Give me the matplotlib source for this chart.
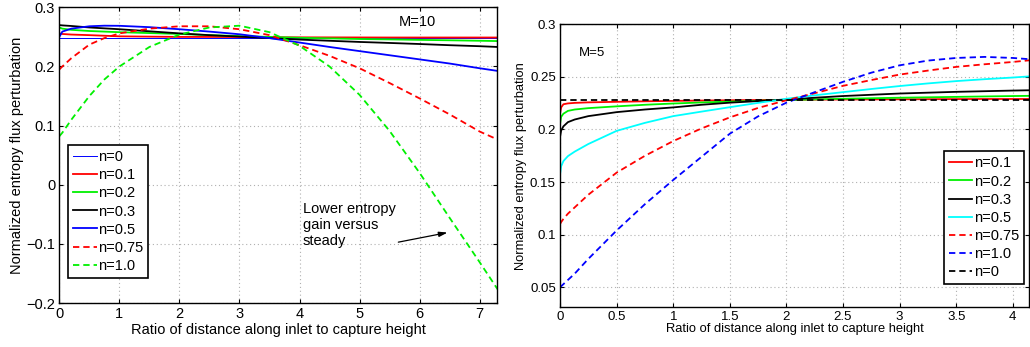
import matplotlib
matplotlib.use("Agg")
import matplotlib.pyplot as plt

plt.rcParams["font.family"] = ["Liberation Sans", "DejaVu Sans"]

# ---- left panel, M=10 ----
x_m10 = [0, 0.05, 0.2, 0.5, 0.75, 1, 1.5, 2, 2.5, 3, 3.5, 4, 4.5, 5, 5.5, 6, 6.5, 7, 7.3]
m10_n0 = [0.249] * len(x_m10)
m10_n01 = [0.256, 0.255, 0.254, 0.253, 0.252, 0.251, 0.2505, 0.25, 0.25, 0.2498,
           0.2495, 0.2493, 0.2492, 0.2491, 0.249, 0.249, 0.249, 0.249, 0.249]
m10_n02 = [0.266, 0.264, 0.262, 0.26, 0.259, 0.258, 0.2565, 0.255, 0.253, 0.2515,
           0.25, 0.2485, 0.2475, 0.2465, 0.2458, 0.245, 0.2443, 0.2435, 0.243]
m10_n03 = [0.270, 0.2695, 0.2685, 0.266, 0.2645, 0.263, 0.2595, 0.256, 0.253, 0.2505,
           0.248, 0.2455, 0.2435, 0.2415, 0.2398, 0.238, 0.236, 0.2343, 0.233]
m10_n05 = [0.25, 0.259, 0.264, 0.268, 0.269, 0.2688, 0.2665, 0.263, 0.259, 0.2545,
           0.248, 0.2405, 0.233, 0.226, 0.219, 0.212, 0.205, 0.197, 0.1925]
m10_n075 = [0.195, 0.2, 0.214, 0.237, 0.248, 0.256, 0.264, 0.268, 0.268, 0.263,
            0.253, 0.236, 0.218, 0.197, 0.172, 0.146, 0.119, 0.09, 0.0764]
m10_n10 = [0.082, 0.088, 0.11, 0.15, 0.178, 0.2, 0.233, 0.254, 0.266, 0.269,
           0.258, 0.235, 0.2, 0.152, 0.091, 0.02, -0.056, -0.131, -0.177]

# ---- right panel, M=5 ----
x_m5 = [0, 0.01, 0.03, 0.07, 0.13, 0.25, 0.5, 0.75, 1, 1.25, 1.5, 1.75, 2,
        2.25, 2.5, 2.75, 3, 3.25, 3.5, 3.75, 4, 4.15]
m5_n0 = [0.228] * len(x_m5)
m5_n01 = [0.215, 0.221, 0.224, 0.2248, 0.2253, 0.2258, 0.2263, 0.2268, 0.2272, 0.2275,
          0.2278, 0.228, 0.2282, 0.2284, 0.2285, 0.2286, 0.2287, 0.2288, 0.2289, 0.229,
          0.229, 0.229]
m5_n02 = [0.205, 0.212, 0.215, 0.2177, 0.219, 0.2203, 0.222, 0.2235, 0.2247, 0.2257,
          0.2265, 0.2273, 0.228, 0.2286, 0.2292, 0.2297, 0.2302, 0.2306, 0.231, 0.2314,
          0.2318, 0.232]
m5_n03 = [0.193, 0.199, 0.203, 0.207, 0.2095, 0.2127, 0.2165, 0.219, 0.221, 0.2235,
          0.2255, 0.227, 0.2284, 0.2302, 0.2318, 0.233, 0.2342, 0.235, 0.2358, 0.2364,
          0.237, 0.2373]
m5_n05 = [0.157, 0.165, 0.17, 0.1747, 0.179, 0.1862, 0.1987, 0.2063, 0.2127, 0.217,
          0.2212, 0.2253, 0.2292, 0.2325, 0.2355, 0.2385, 0.2413, 0.2438, 0.246, 0.2478,
          0.2494, 0.2505]
m5_n075 = [0.11, 0.112, 0.115, 0.12, 0.126, 0.138, 0.159, 0.175, 0.189, 0.201,
           0.2115, 0.2205, 0.2278, 0.2345, 0.2415, 0.247, 0.2522, 0.256, 0.2595, 0.262,
           0.2642, 0.2658]
m5_n10 = [0.05, 0.051, 0.053, 0.057, 0.063, 0.077, 0.104, 0.129, 0.152, 0.174,
          0.196, 0.2125, 0.2255, 0.2355, 0.2453, 0.254, 0.261, 0.2655, 0.268, 0.269,
          0.268, 0.2668]

GREEN = "#00f000"
dash = (0, (3.5, 2.2))


def matlab_axes(ax, fs):
    ax.grid(True, color="#b0b0b0", linestyle=(0, (1, 2.5)), linewidth=0.8)
    ax.tick_params(direction="in", top=True, right=True, length=3,
                   labelsize=fs, width=0.8, pad=3)
    for sp in ax.spines.values():
        sp.set_linewidth(1.0)


def boxed_legend(ax, **kw):
    leg = ax.legend(borderaxespad=0, fontsize=10.5, handlelength=1.6,
                    handletextpad=0.1, labelspacing=0.28, borderpad=0.35,
                    fancybox=False, framealpha=1, **kw)
    leg.get_frame().set_edgecolor("black")
    leg.get_frame().set_linewidth(1.2)
    return leg


fig = plt.figure(figsize=(10.3, 3.47), dpi=100)

# left
ax1 = fig.add_axes([0.0576, 0.1268, 0.425, 0.852])
ax1.plot(x_m10, m10_n0, color="#0000ff", lw=0.7, label="n=0")
ax1.plot(x_m10, m10_n01, color="#ff0000", lw=1.3, label="n=0.1")
ax1.plot(x_m10, m10_n02, color=GREEN, lw=1.3, label="n=0.2")
ax1.plot(x_m10, m10_n03, color="black", lw=1.3, label="n=0.3")
ax1.plot(x_m10, m10_n05, color="#0000ff", lw=1.3, label="n=0.5")
ax1.plot(x_m10, m10_n075, color="#ff0000", lw=1.3, ls=dash, label="n=0.75")
ax1.plot(x_m10, m10_n10, color=GREEN, lw=1.3, ls=dash, label="n=1.0")
ax1.set_xlim(0, 7.29)
ax1.set_ylim(-0.2, 0.3)
ax1.set_xticks(range(0, 8))
ax1.set_yticks([-0.2, -0.1, 0, 0.1, 0.2, 0.3])
ax1.set_yticklabels(["\u22120.2", "\u22120.1", "0", "0.1", "0.2", "0.3"])
matlab_axes(ax1, 10.5)
ax1.set_xlabel("Ratio of distance along inlet to capture height", fontsize=10.5, labelpad=1)
ax1.set_ylabel("Normalized entropy flux perturbation", fontsize=10.5, labelpad=2)
ax1.text(5.65, 0.275, "M=10", fontsize=10.5, va="center")
ax1.annotate("", xy=(6.51, -0.08), xytext=(5.6, -0.098),
             arrowprops=dict(arrowstyle="-|>,head_length=0.5,head_width=0.15",
                             color="black", lw=0.9))
ax1.text(4.05, -0.03, "Lower entropy\ngain versus\nsteady", fontsize=10.5,
         va="top", linespacing=1.15)
boxed_legend(ax1, loc="lower left", bbox_to_anchor=(0.02, 0.085))

# right
ax2 = fig.add_axes([0.5437, 0.1144, 0.4553, 0.8156])
ax2.plot(x_m5, m5_n01, color="#ff0000", lw=1.3, label="n=0.1")
ax2.plot(x_m5, m5_n02, color=GREEN, lw=1.3, label="n=0.2")
ax2.plot(x_m5, m5_n03, color="black", lw=1.3, label="n=0.3")
ax2.plot(x_m5, m5_n05, color="#00ffff", lw=1.3, label="n=0.5")
ax2.plot(x_m5, m5_n075, color="#ff0000", lw=1.3, ls=dash, label="n=0.75")
ax2.plot(x_m5, m5_n10, color="#0000ff", lw=1.3, ls=dash, label="n=1.0")
ax2.plot(x_m5, m5_n0, color="black", lw=1.3, ls=dash, label="n=0")
ax2.set_xlim(0, 4.143)
ax2.set_ylim(0.031, 0.3)
ax2.set_xticks([0, 0.5, 1, 1.5, 2, 2.5, 3, 3.5, 4])
ax2.set_xticklabels(["0", "0.5", "1", "1.5", "2", "2.5", "3", "3.5", "4"])
ax2.set_yticks([0.05, 0.1, 0.15, 0.2, 0.25, 0.3])
ax2.set_yticklabels(["0.05", "0.1", "0.15", "0.2", "0.25", "0.3"])
matlab_axes(ax2, 9.5)
ax2.set_xlabel("Ratio of distance along inlet to capture height", fontsize=9.3, labelpad=0)
ax2.set_ylabel("Normalized entropy flux perturbation", fontsize=9.3, labelpad=2)
ax2.text(0.17, 0.2724, "M=5", fontsize=9.5, va="center")
boxed_legend(ax2, loc="lower right", bbox_to_anchor=(0.99, 0.082))

fig.savefig("out.png", dpi=100)
